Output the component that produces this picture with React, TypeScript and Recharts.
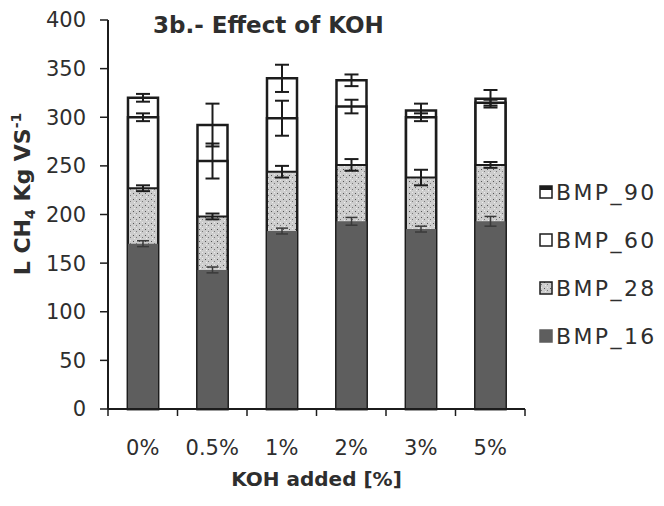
import React from 'react'
import { ComposedChart, Bar, XAxis, YAxis, ErrorBar, Legend } from 'recharts'

// KOH dose groups
const categories = ['0%', '0.5%', '1%', '2%', '3%', '5%']

// cumulative BMP (L CH4 / kg VS) at 16, 28, 60 and 90 days
const bmp16 = [170, 143, 183, 193, 185, 193]
const bmp28 = [227, 198, 244, 251, 238, 251]
const bmp60 = [300, 255, 299, 311, 300, 315]
const bmp90 = [320, 292, 340, 338, 307, 319]

// standard deviations
const err16 = [3, 3, 3, 4, 3, 5]
const err28 = [3, 3, 6, 6, 8, 3]
const err60 = [4, 18, 18, 7, 4, 3]
const err90 = [4, 22, 14, 6, 7, 9]

const yTicks = [0, 50, 100, 150, 200, 250, 300, 350, 400]

const data = categories.map((koh, i) => ({
  koh,
  BMP_16: bmp16[i],
  BMP_28: bmp28[i],
  BMP_60: bmp60[i],
  BMP_90: bmp90[i],
  e16: err16[i],
  e28: err28[i],
  e60: err60[i],
  e90: err90[i],
}))

const FONT = '"DejaVu Sans", sans-serif'
const TEXT = '#2e2e2e'
const INK = '#1c1c1c'
const DARK = '#5e5e5e'
const X_TICK_SIZE = 7
const X_TICK_MARGIN = 24

const legendItems = [
  { name: 'BMP_90', fill: '#fff', top: true },
  { name: 'BMP_60', fill: '#fff' },
  { name: 'BMP_28', fill: 'url(#speckleLegend)' },
  { name: 'BMP_16', fill: DARK },
]

const SpeckleDef = ({ id }: { id: string }) => (
  <pattern id={id} width="6" height="6" patternUnits="userSpaceOnUse">
    <rect width="6" height="6" fill="#cdcdcd" />
    <rect x="1" y="1" width="1" height="1" fill="#555" />
    <rect x="4" y="3" width="1" height="1" fill="#777" />
    <rect x="2" y="4" width="1" height="1" fill="#eee" />
    <rect x="4" y="0" width="1" height="1" fill="#e8e8e8" />
  </pattern>
)

// category label plus a tick mark on the category boundaries (Excel style)
const CategoryTick = (props: any) => {
  const { x, y, payload, index } = props
  const half = payload.offset || 0
  const y1 = y - X_TICK_MARGIN - X_TICK_SIZE
  const y2 = y - X_TICK_MARGIN
  return (
    <g>
      <line x1={x - half} x2={x - half} y1={y1} y2={y2} stroke={INK} strokeWidth={1.5} />
      {index === categories.length - 1 && (
        <line x1={x + half} x2={x + half} y1={y1} y2={y2} stroke={INK} strokeWidth={1.5} />
      )}
      <text x={x} y={y} dy="0.71em" textAnchor="middle" fill={TEXT} fontSize={21} fontFamily={FONT}>
        {payload.value}
      </text>
    </g>
  )
}

const LegendContent = () => (
  <div style={{ fontFamily: FONT, fontSize: 22, color: TEXT, letterSpacing: 2.4 }}>
    {legendItems.map(it => (
      <div key={it.name} style={{ display: 'flex', alignItems: 'center', height: 48 }}>
        <svg width={17} height={14} style={{ marginRight: 2 }}>
          <defs>
            <SpeckleDef id="speckleLegend" />
          </defs>
          <rect x={3} y={1} width={12} height={12} fill={it.fill} stroke={it.name === 'BMP_16' ? DARK : INK} strokeWidth={1.5} />
          {it.top && <rect x={3} y={1} width={12} height={4} fill={INK} />}
        </svg>
        <span>{it.name}</span>
      </div>
    ))}
  </div>
)

const YLabel = () => (
  <text
    transform="translate(30,194) rotate(-90)"
    textAnchor="middle"
    fontFamily={FONT}
    fontWeight="bold"
    fontSize={22}
    fill={TEXT}
  >
    <tspan>L CH</tspan>
    <tspan fontSize={14} dy={5}>4</tspan>
    <tspan dy={-5}> Kg VS</tspan>
    <tspan fontSize={14} dy={-9}>-1</tspan>
  </text>
)

export default function App() {
  return (
    <div style={{ position: 'absolute', left: 0, top: 0, width: 664, height: 506, background: '#fff' }}>
      <div
        style={{
          position: 'absolute',
          left: 153,
          top: 12,
          fontFamily: FONT,
          fontWeight: 'bold',
          fontSize: 23,
          color: TEXT,
          zIndex: 2,
        }}
      >
        3b.- Effect of KOH
      </div>
      <ComposedChart
        width={664}
        height={506}
        data={data}
        margin={{ top: 20, right: 139, bottom: 14, left: 38 }}
        barGap={-30}
        barSize={30}
      >
        <defs>
          <SpeckleDef id="speckle" />
        </defs>
        <XAxis
          dataKey="koh"
          height={83}
          interval={0}
          axisLine={{ stroke: INK, strokeWidth: 2 }}
          tickLine={false}
          tickSize={X_TICK_SIZE}
          tickMargin={X_TICK_MARGIN}
          tick={<CategoryTick />}
          label={{
            value: 'KOH added [%]',
            position: 'insideBottom',
            offset: 6,
            fill: TEXT,
            fontSize: 20,
            fontFamily: FONT,
            fontWeight: 'bold',
          }}
        />
        <YAxis
          width={70}
          domain={[0, 400]}
          ticks={yTicks}
          interval={0}
          tickSize={8}
          tickMargin={14}
          tickLine={{ stroke: INK, strokeWidth: 1.5 }}
          axisLine={{ stroke: INK, strokeWidth: 2 }}
          tick={{ fill: TEXT, fontSize: 21, fontFamily: FONT }}
          label={{ content: () => <YLabel /> }}
        />
        <Legend
          layout="vertical"
          align="center"
          verticalAlign="middle"
          content={() => <LegendContent />}
          wrapperStyle={{ position: 'absolute', left: 537, top: 168, width: 127 }}
        />
        <Bar dataKey="BMP_90" fill="#fff" stroke={INK} strokeWidth={2.5} isAnimationActive={false}>
          <ErrorBar dataKey="e90" width={7} stroke={INK} strokeWidth={2} />
        </Bar>
        <Bar dataKey="BMP_60" fill="#fff" stroke={INK} strokeWidth={2.5} isAnimationActive={false}>
          <ErrorBar dataKey="e60" width={7} stroke={INK} strokeWidth={2} />
        </Bar>
        <Bar dataKey="BMP_28" fill="url(#speckle)" stroke={INK} strokeWidth={2} isAnimationActive={false}>
          <ErrorBar dataKey="e28" width={7} stroke={INK} strokeWidth={2} />
        </Bar>
        <Bar dataKey="BMP_16" fill={DARK} isAnimationActive={false}>
          <ErrorBar dataKey="e16" width={6} stroke="#3a3a3a" strokeWidth={1.5} />
        </Bar>
      </ComposedChart>
    </div>
  )
}
